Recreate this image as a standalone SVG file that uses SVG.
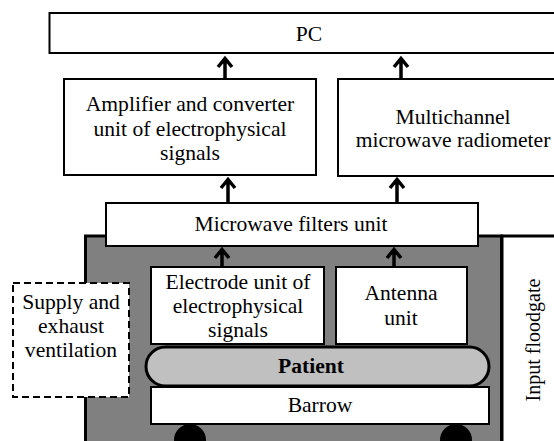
<svg xmlns="http://www.w3.org/2000/svg" width="554" height="441" viewBox="0 0 554 441">
<style>
.box{fill:#fff;stroke:#000;stroke-width:2}
.t{font-family:"Liberation Serif","Times New Roman",serif;font-size:20px;fill:#000;text-anchor:middle}
.b{font-weight:bold}
.arr{fill:none;stroke:#000;stroke-width:3.5;stroke-linejoin:miter;stroke-linecap:butt}
</style>
<rect width="554" height="441" fill="#fff"/>
<g id="chamber">
<rect x="85.5" y="236" width="416" height="220" fill="#808080" stroke="#000" stroke-width="3"/>
<rect x="502" y="236" width="60" height="220" fill="#fff" stroke="#000" stroke-width="3"/>
</g>
<g id="floodgate">
<text class="t" transform="translate(540,340) rotate(-90)">Input floodgate</text>
</g>
<g id="pc">
<rect class="box" x="49.5" y="13" width="520" height="40"/>
<text class="t" transform="translate(309,41) scale(1.08,1)">PC</text>
</g>
<g id="amplifier">
<rect class="box" x="64" y="79" width="252" height="96"/>
<text class="t" transform="translate(190,111) scale(1.08,1)">Amplifier and converter</text>
<text class="t" transform="translate(190,135.5) scale(1.08,1)">unit of electrophysical</text>
<text class="t" transform="translate(190,160) scale(1.08,1)">signals</text>
</g>
<g id="radiometer">
<rect class="box" x="338" y="79" width="230" height="97"/>
<text class="t" transform="translate(453,124) scale(1.08,1)">Multichannel</text>
<text class="t" transform="translate(453,147) scale(1.08,1)">microwave radiometer</text>
</g>
<g id="filters">
<rect class="box" x="106" y="203" width="372" height="43"/>
<text class="t" transform="translate(291,231) scale(1.08,1)">Microwave filters unit</text>
</g>
<g id="electrode">
<rect class="box" x="151" y="267" width="173" height="77"/>
<text class="t" transform="translate(238,289) scale(1.08,1)">Electrode unit of</text>
<text class="t" transform="translate(238,313) scale(1.08,1)">electrophysical</text>
<text class="t" transform="translate(238,337) scale(1.08,1)">signals</text>
</g>
<g id="antenna">
<rect class="box" x="336" y="267" width="131" height="77"/>
<text class="t" transform="translate(401,300) scale(1.08,1)">Antenna</text>
<text class="t" transform="translate(401,325) scale(1.08,1)">unit</text>
</g>
<g id="wheels">
<circle cx="190" cy="440" r="16" fill="#000"/>
<circle cx="456" cy="440" r="16" fill="#000"/>
</g>
<g id="barrow">
<rect class="box" x="151" y="387" width="338" height="37"/>
<text class="t" transform="translate(320,412) scale(1.08,1)">Barrow</text>
</g>
<g id="patient">
<rect x="146" y="347" width="343" height="39" rx="19.5" fill="#c0c0c0" stroke="#000" stroke-width="3"/>
<text class="t b" transform="translate(311,373) scale(1.08,1)">Patient</text>
</g>
<g id="ventilation">
<rect x="13" y="283" width="116" height="114" fill="#fff" stroke="#000" stroke-width="2" stroke-dasharray="7 4"/>
<text class="t" transform="translate(71,309) scale(1.08,1)">Supply and</text>
<text class="t" transform="translate(71,333) scale(1.08,1)">exhaust</text>
<text class="t" transform="translate(71,357) scale(1.08,1)">ventilation</text>
</g>
<g id="connectors">
<path class="arr" d="M225 79V58M218 67L225 58.5L232 67"/>
<path class="arr" d="M401 79V58M394 67L401 58.5L408 67"/>
<path class="arr" d="M228 203V179M221 188L228 179.5L235 188"/>
<path class="arr" d="M397 203V179M390 188L397 179.5L404 188"/>
<path class="arr" d="M222 267V249M215 258L222 249.5L229 258"/>
<path class="arr" d="M394 267V249M387 258L394 249.5L401 258"/>
</g>
</svg>
